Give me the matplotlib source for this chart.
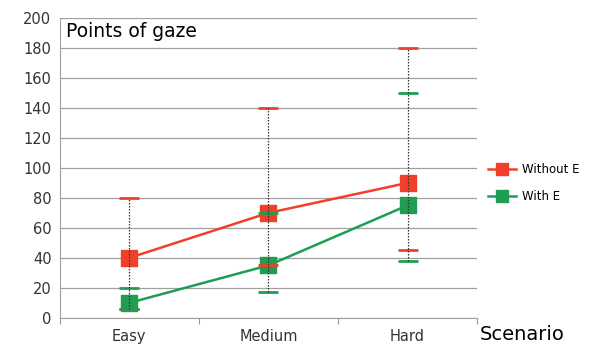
import numpy as np
import matplotlib.pyplot as plt

scenarios = ['Easy', 'Medium', 'Hard']
mean_without = [40, 70, 90]
low_without = [6, 35, 45]
high_without = [80, 140, 180]
mean_with = [10, 35, 75]
low_with = [6, 17, 38]
high_with = [20, 70, 150]

red = '#f0402a'
green = '#1e9e52'

fig = plt.figure(figsize=(5.92, 3.52), dpi=100)
ax = fig.add_axes([0.101, 0.097, 0.705, 0.852])

x = np.arange(len(scenarios)) + 0.5

ax.plot(x, mean_without, color=red, lw=1.8, marker='s', ms=11.5, mec=red, label='Without E', zorder=3)
ax.plot(x, mean_with, color=green, lw=1.8, marker='s', ms=11.5, mec=green, label='With E', zorder=3)

# caps
m = np.array(mean_without)
ax.errorbar(x, m, yerr=[m - np.array(low_without), np.array(high_without) - m], fmt='none',
            ecolor=red, elinewidth=0, capsize=7, capthick=2, zorder=4)
m2 = np.array(mean_with)
ax.errorbar(x, m2, yerr=[m2 - np.array(low_with), np.array(high_with) - m2], fmt='none',
            ecolor=green, elinewidth=0, capsize=7, capthick=2, zorder=5)

# dotted range lines over everything
lo_all = np.minimum(low_without, low_with)
hi_all = np.maximum(high_without, high_with)
ax.vlines(x, lo_all, hi_all, colors='#333333', linestyles=(0, (1.2, 1.2)), linewidth=0.9, zorder=6)

ax.set_xlim(0, 3)
ax.set_ylim(0, 200)
ax.set_yticks(range(0, 201, 20))
ax.set_xticks([0, 1, 2, 3])
ax.set_xticklabels([])
ax.set_xticks(x, minor=True)
ax.set_xticklabels(scenarios, minor=True)
ax.tick_params(axis='x', which='minor', length=0, pad=8, labelsize=10.5, labelcolor='#333333')
ax.tick_params(axis='x', which='major', length=4, color='#999999')
ax.tick_params(axis='y', length=0, labelsize=10.5, labelcolor='#333333', pad=6)
ax.yaxis.grid(True, color='#a0a0a0', lw=0.9)
ax.set_axisbelow(True)
for s in ['top', 'right']:
    ax.spines[s].set_visible(False)
for s in ['left', 'bottom']:
    ax.spines[s].set_color('#a0a0a0')

ax.text(0.015, 0.985, 'Points of gaze', transform=ax.transAxes, fontsize=13.5, va='top', ha='left')
fig.text(0.81, 0.035, 'Scenario', fontsize=14, ha='left', va='baseline')

ax.legend(loc='center left', bbox_to_anchor=(1.0, 0.45), frameon=False, fontsize=8.5,
          handlelength=2.4, markerscale=0.7, labelspacing=1.2, handletextpad=0.5)

fig.savefig('out.png', dpi=100)
